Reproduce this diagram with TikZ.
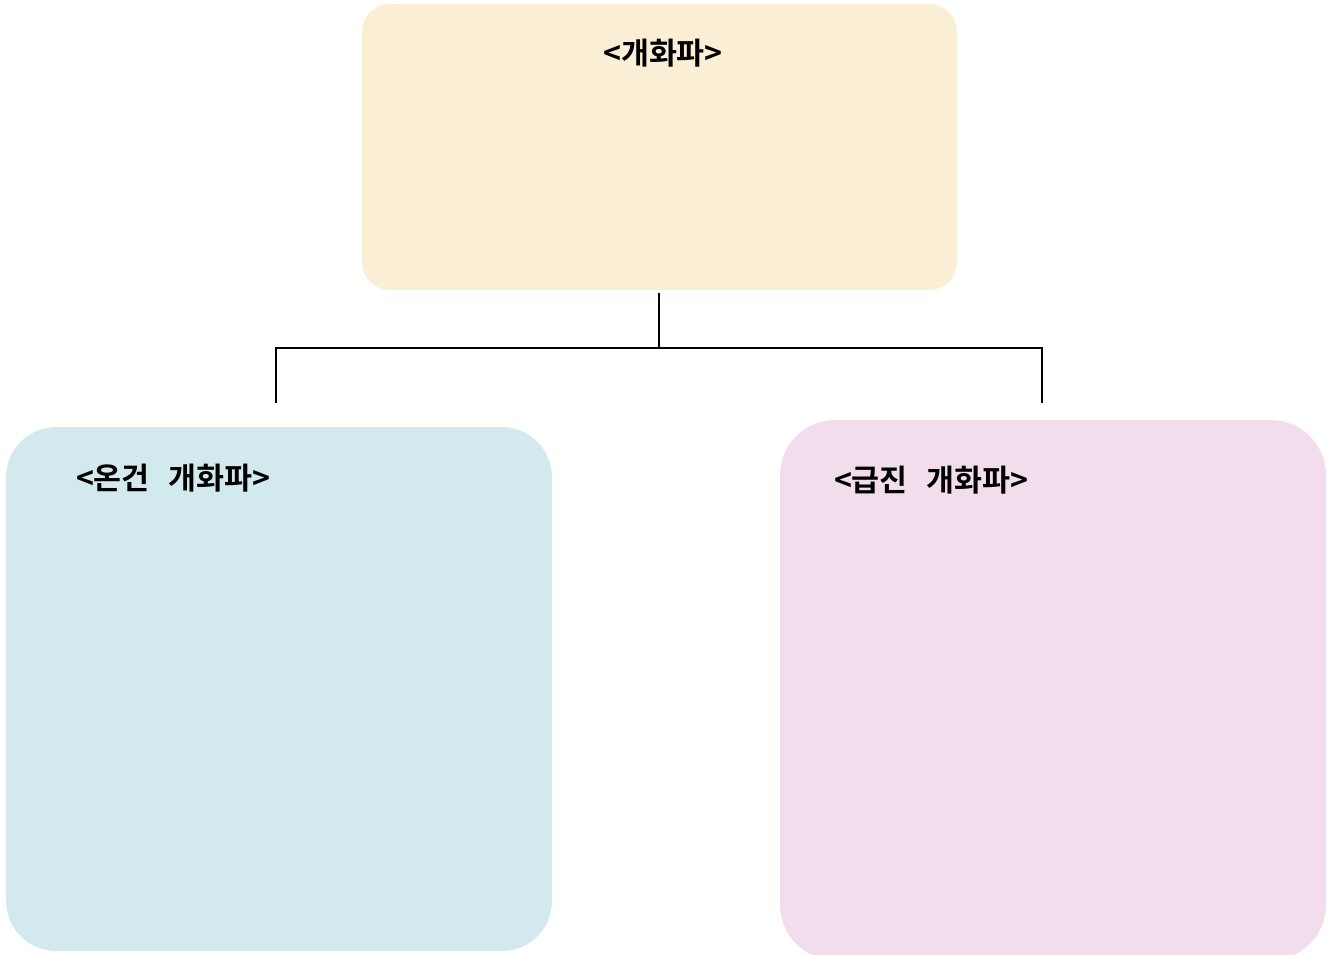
\documentclass[tikz,border=0pt]{standalone}
\usepackage{fontspec}
\newfontfamily\kor{Noto Sans CJK KR}[BoldFont={* Bold}]
\usetikzlibrary{positioning, calc}
\definecolor{creambox}{HTML}{FAEFD5}
\definecolor{bluebox}{HTML}{D2EAEE}
\definecolor{pinkbox}{HTML}{F2DDED}

\begin{document}
\begin{tikzpicture}[x=0.02cm, y=-0.02cm,
    panel/.style={draw=none, inner sep=0pt, minimum width=10.92cm},
    title/.style={font=\kor\bfseries\fontsize{17.3}{20}\selectfont, inner sep=0pt},
    link/.style={draw=black, line width=0.6pt}
]
    \useasboundingbox (0,0) rectangle (1332,954);
    % boxes
    \node[panel, fill=creambox, rounded corners=0.55cm, minimum width=11.9cm, minimum height=5.72cm] (party) at (659.5,147) {};
    \node[panel, fill=bluebox, rounded corners=1cm, minimum height=10.48cm] (moderate) at (279,689) {};
    \node[panel, fill=pinkbox, rounded corners=1.1cm, minimum height=10.8cm] (radical) at (1053,690) {};
    % titles
    \node[title] (partyname) at (663,53) {<개화파>};
    \node[title] (moderatename) at (173,478) {<온건\hspace{0.6em}개화파>};
    \node[title] (radicalname) at (931,480) {<급진\hspace{0.6em}개화파>};
    % tree
    \coordinate (stem) at (659,293);
    \coordinate (hub) at (659,348);
    \coordinate (moderatetip) at (276,403);
    \coordinate (radicaltip) at (1042,403);
    \draw[link] (stem) -- (hub) -| (moderatetip);
    \draw[link] (hub) -| (radicaltip);
\end{tikzpicture}
\end{document}
